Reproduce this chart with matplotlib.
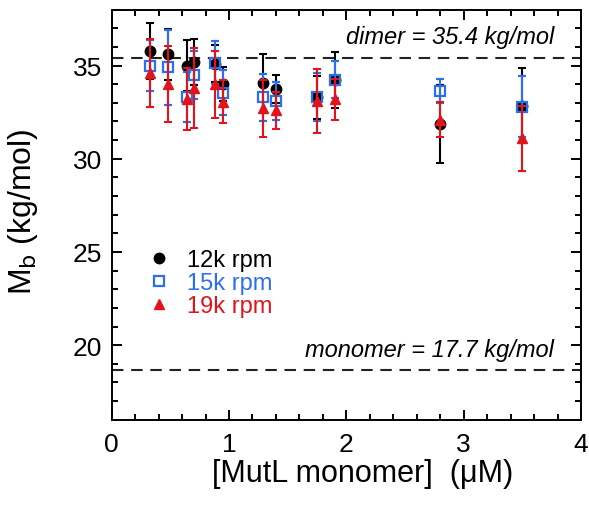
import numpy as np
import matplotlib.pyplot as plt
from matplotlib.lines import Line2D
from matplotlib.ticker import MultipleLocator

plt.rcParams['font.family'] = ['Liberation Sans', 'DejaVu Sans']

# MutL monomer concentration (uM)
conc = [0.33, 0.48, 0.64, 0.70, 0.88, 0.95, 1.29, 1.40, 1.75, 1.90, 2.80, 3.50]

# buoyant molar mass (kg/mol) and errors, per rotor speed
m12 = [35.8, 35.6, 35.0, 35.2, 35.1, 34.0, 34.05, 33.75, 33.3, 34.25, 31.85, 32.85]
e12 = [1.5, 1.35, 1.35, 1.25, 1.0, 0.9, 1.55, 0.75, 1.15, 1.5, 2.1, 2.0]
m15 = [35.0, 34.9, 33.3, 34.5, 35.15, 33.55, 33.3, 33.1, 33.3, 34.25, 33.65, 32.8]
e15 = [1.35, 2.0, 1.35, 1.3, 1.15, 1.2, 1.25, 1.0, 1.3, 1.0, 0.65, 1.65]
m19 = [34.6, 34.0, 33.2, 33.8, 34.0, 33.05, 32.7, 32.6, 33.1, 33.2, 32.1, 31.1]
e19 = [1.8, 2.05, 1.65, 2.15, 1.8, 1.15, 1.55, 1.0, 1.7, 1.1, 0.95, 1.75]

dimer_mass = 35.4
monomer_mass = 17.7
monomer_line = 18.65   # where the dashed line is actually drawn

black = '#000000'
blue = '#2b6ff0'
red = '#e3131b'

fig = plt.figure(figsize=(5.89, 5.06), dpi=100)
ax = fig.add_axes([0.1896, 0.1686, 0.7968, 0.8103])

# reference lines
ax.axhline(dimer_mass, color='#222222', lw=1.5, dashes=(5.5, 3.7), zorder=1)
ax.axhline(monomer_line, color='#222222', lw=1.5, dashes=(5.5, 3.7), zorder=1)

# data, drawn black -> blue -> red
ax.errorbar(conc, m12, yerr=e12, fmt='o', color=black, ms=7.5, lw=1.5,
            capsize=3, capthick=1.5, zorder=3)
ax.errorbar(conc, m15, yerr=e15, fmt='s', color=blue, mfc='none', mec=blue,
            mew=1.6, ms=6.5, lw=1.5, capsize=3, capthick=1.5, zorder=4)
ax.errorbar(conc, m19, yerr=e19, fmt='^', color=red, ms=7.5, lw=1.5,
            capsize=3, capthick=1.5, zorder=5)

ax.text(3.77, 36.55, f'dimer = {dimer_mass} kg/mol', style='italic',
        fontsize=17, ha='right', va='center')
ax.text(3.77, 19.75, f'monomer = {monomer_mass} kg/mol', style='italic',
        fontsize=17, ha='right', va='center')

# legend with markers only
handles = [
    Line2D([], [], ls='none', marker='o', color=black, ms=7.5),
    Line2D([], [], ls='none', marker='s', mfc='none', mec=blue, mew=1.6, ms=6.5),
    Line2D([], [], ls='none', marker='^', color=red, ms=7.5),
]
leg = ax.legend(handles, ['12k rpm', '15k rpm', '19k rpm'], loc='upper left',
                bbox_to_anchor=(0.04, 0.457), frameon=False, fontsize=17,
                handlelength=1.0, handletextpad=0.7, labelspacing=0.05,
                borderpad=0.2, labelcolor=[black, blue, red])

ax.set_xlim(0, 4)
ax.set_ylim(16, 38)
ax.set_xticks([0, 1, 2, 3, 4])
ax.set_yticks([20, 25, 30, 35])
ax.xaxis.set_minor_locator(MultipleLocator(0.2))
ax.yaxis.set_minor_locator(MultipleLocator(1))
ax.tick_params(which='both', direction='in', top=True, right=True,
               width=1.4, labelsize=19, pad=7)
ax.tick_params(axis='x', which='major', pad=9)
ax.tick_params(which='major', length=7)
ax.tick_params(which='minor', length=4.3)
for s in ax.spines.values():
    s.set_linewidth(1.4)

ax.set_xlabel('[MutL monomer]  (μM)', fontsize=22)
ax.set_ylabel(r'M$_\mathrm{b}$ (kg/mol)', fontsize=23)
ax.xaxis.set_label_coords(0.535, -0.093)
ax.yaxis.set_label_coords(-0.153, 0.51)

fig.savefig('out.png', dpi=100)
